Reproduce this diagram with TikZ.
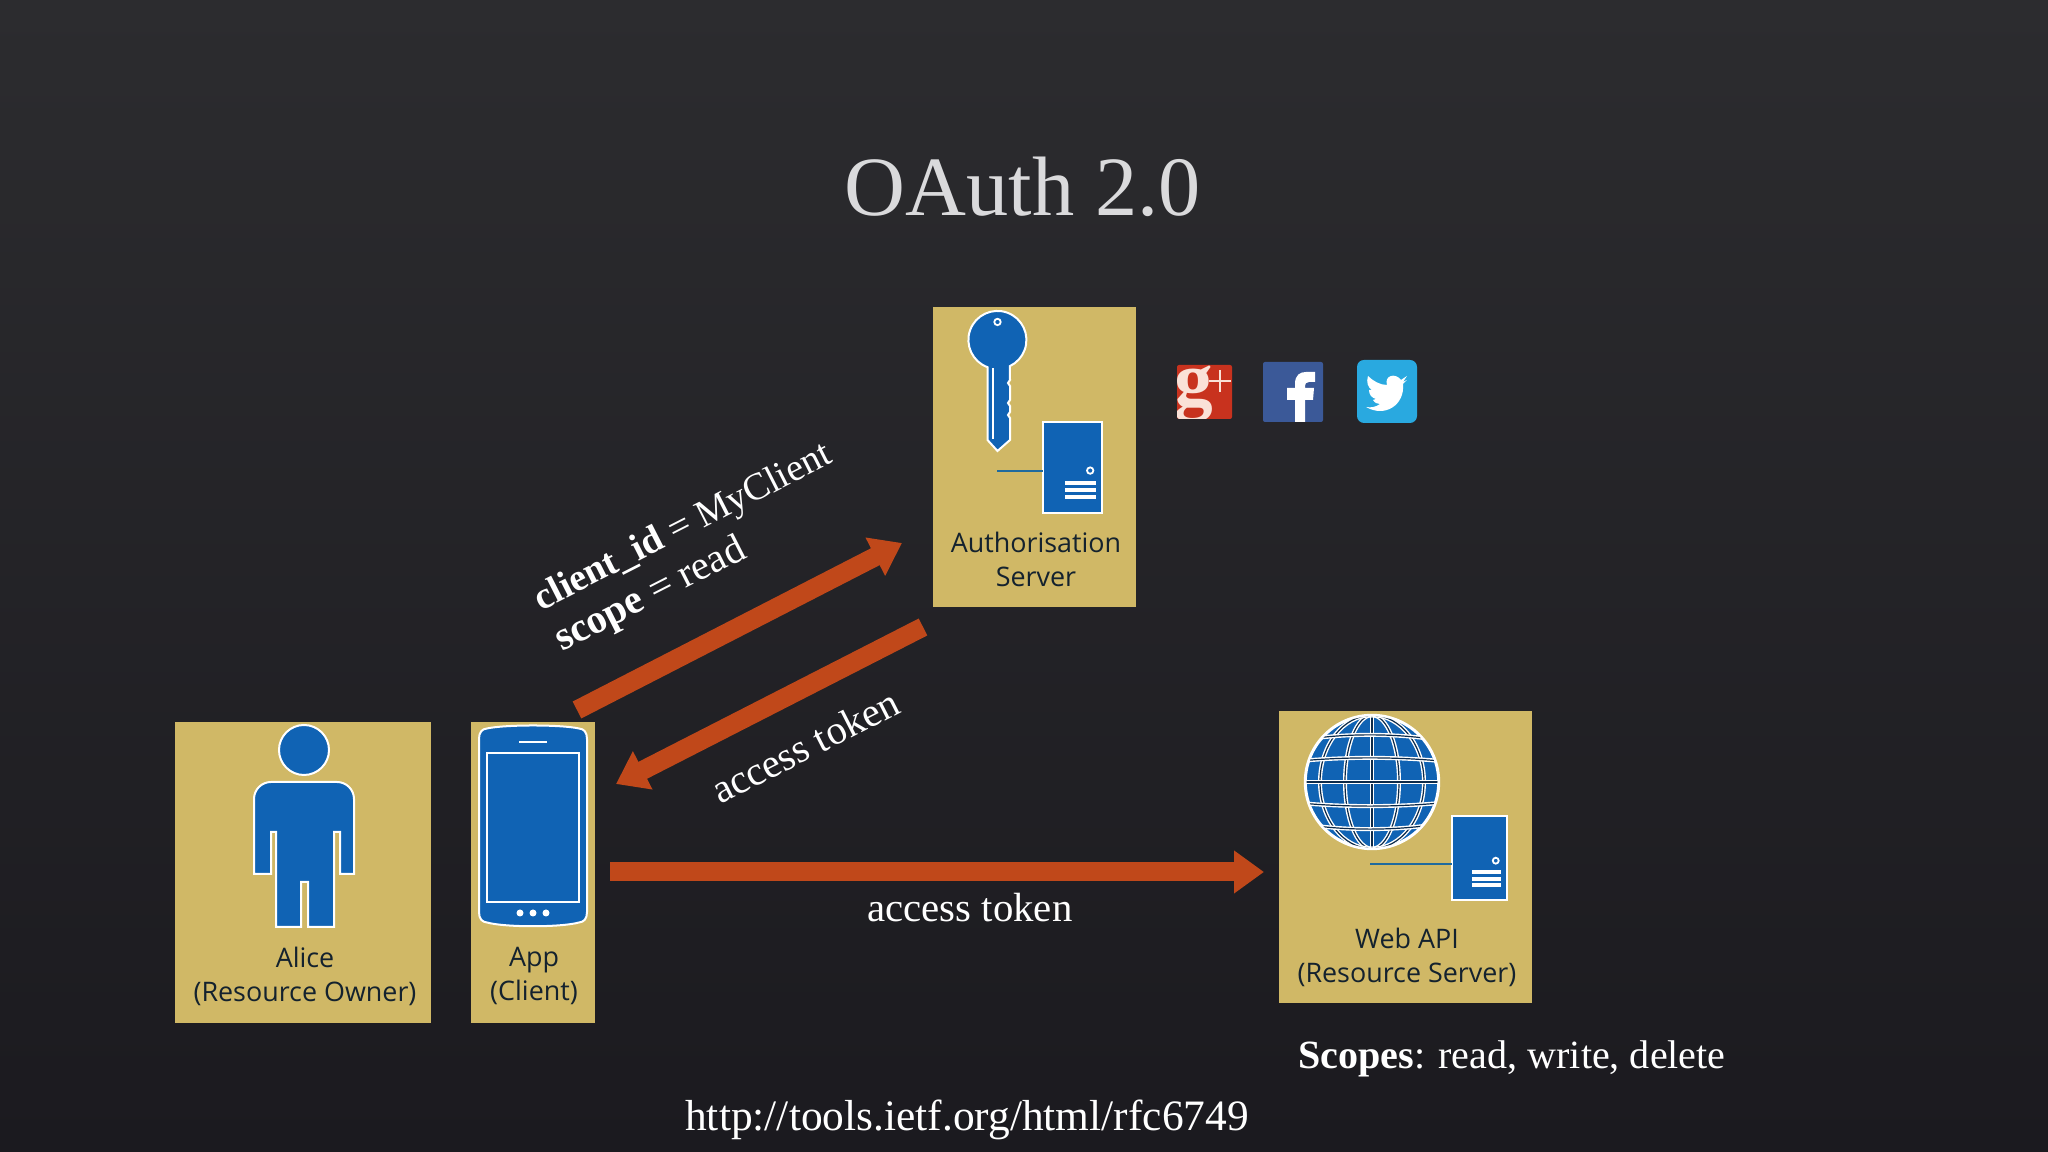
\documentclass[tikz,border=0pt]{standalone}
\usepackage{fontspec}
\setmainfont{Liberation Serif}
\newfontfamily\boxfont{Open Sans}
\usetikzlibrary{arrows.meta}
\definecolor{boxgold}{HTML}{D0B866}
\definecolor{iconblue}{HTML}{1063B4}
\definecolor{wireblue}{HTML}{1F6A9E}
\definecolor{arrowred}{HTML}{C0481A}
\definecolor{gridnavy}{HTML}{0C2A4A}
\definecolor{boxink}{HTML}{14222E}
\definecolor{bgtop}{HTML}{2C2C2F}
\definecolor{bgbottom}{HTML}{1B1A1F}
\definecolor{titlegrey}{HTML}{DADADC}
\definecolor{gplusred}{HTML}{C8321E}
\definecolor{gpluspale}{HTML}{FAE1D7}
\definecolor{fbblue}{HTML}{3B5998}
\definecolor{twblue}{HTML}{29A9E0}
\tikzset{
	box/.style={fill=boxgold, inner sep=0pt},
	boxlabel/.style={font=\boxfont\fontsize{7.65}{9.7}\selectfont, text=boxink, align=center},
	icon/.style={fill=iconblue, draw=white, line width=.02cm},
	iconline/.style={draw=white, line width=.018cm},
	gridline/.style={draw=white, line width=.014cm, double=gridnavy, double distance=.012cm},
	wire/.style={draw=wireblue, line width=.02cm},
	bigarrow/.style={draw=arrowred, line width=.19cm, -{Triangle[width=.41cm,length=.3cm]}},
	note/.style={text=white, font=\fontsize{11.6}{13}\selectfont},
	serverpic/.pic={
		\draw[icon] (0,0) rectangle (.59,.91);
		\draw[iconline] (.472,.424) circle [radius=.032];
		\fill[white] (.218,.28) rectangle (.525,.32);
		\fill[white] (.218,.21) rectangle (.525,.25);
		\fill[white] (.218,.14) rectangle (.525,.18);
		\coordinate (-port) at (0,.424);
	}
}

\begin{document}
\begin{tikzpicture}
	% background
	\shade[top color=bgtop, bottom color=bgbottom] (0,0) rectangle (20.48,11.52);
	\useasboundingbox (0,0) rectangle (20.48,11.52);
	\node[text=titlegrey, font=\fontsize{24}{28}\selectfont] (title) at (10.23,9.65) {OAuth 2.0};
	% boxes
	\node[box, minimum width=2.56cm, minimum height=3.01cm] (alice) at (3.03,2.795) {};
	\node[box, minimum width=1.24cm, minimum height=3.01cm] (app) at (5.33,2.795) {};
	\node[box, minimum width=2.03cm, minimum height=3.00cm] (auth) at (10.34,6.95) {};
	\node[box, minimum width=2.53cm, minimum height=2.92cm] (web) at (14.055,2.95) {};
	\node[boxlabel] (alicelabel) at (3.05,1.76) {Alice\\(Resource Owner)};
	\node[boxlabel] (applabel) at (5.34,1.76) {App\\(Client)};
	\node[boxlabel] (authlabel) at (10.36,5.93) {Authorisation\\Server};
	\node[boxlabel] (weblabel) at (14.07,1.95) {Web API\\(Resource Server)};
	% person
	\draw[icon] (3.04,4.02) circle [radius=.25];
	\draw[icon, rounded corners=.17cm] (2.54,2.78)[sharp corners]--(2.54,3.0)[rounded corners=.17cm]--(2.54,3.70)--(3.54,3.70)[sharp corners]--(3.54,2.78)--(3.40,2.78)--(3.40,3.20)--(3.34,3.20)--(3.34,2.25)--(3.08,2.25)--(3.08,2.70)--(3.01,2.70)--(3.01,2.25)--(2.76,2.25)--(2.76,3.20)--(2.71,3.20)--(2.71,2.78)--cycle;
	% phone
	\draw[icon] (4.79,2.40)--(4.79,4.13) .. controls (4.79,4.20) and (4.82,4.23) .. (4.87,4.235) .. controls (5.05,4.275) and (5.61,4.275) .. (5.79,4.235) .. controls (5.84,4.23) and (5.87,4.20) .. (5.87,4.13)--(5.87,2.40) .. controls (5.87,2.33) and (5.84,2.30) .. (5.79,2.295) .. controls (5.61,2.245) and (5.05,2.245) .. (4.87,2.295) .. controls (4.82,2.30) and (4.79,2.33) .. (4.79,2.40)--cycle;
	\draw[iconline] (4.87,2.50) rectangle (5.79,3.99);
	\draw[iconline] (5.19,4.10)--(5.47,4.10);
	\fill[white] (5.20,2.39) circle [radius=.035];
	\fill[white] (5.33,2.39) circle [radius=.035];
	\fill[white] (5.46,2.39) circle [radius=.035];
	% key
	\draw[icon] (9.875,7.12)--(9.875,7.848) arc [start angle=250, end angle=-64.5, radius=.29]--(10.10,7.72)--(10.08,7.69)--(10.10,7.66)--(10.10,7.52)--(10.08,7.49)--(10.10,7.46)--(10.10,7.40)--(10.08,7.37)--(10.10,7.34)--(10.10,7.12)--(9.975,7.01)--cycle;
	\draw[iconline] (9.975,8.30) circle [radius=.032];
	\draw[iconline] (9.93,7.84)--(9.93,7.13);
	% servers
	\pic (authsrv) at (10.43,6.39) {serverpic};
	\pic[scale=.927] (websrv) at (14.52,2.52) {serverpic};
	\coordinate (keyfoot) at (9.97,6.814);
	\coordinate (globefoot) at (13.70,2.877);
	\draw[wire] (keyfoot)--(keyfoot -| authsrv-port);
	\draw[wire] (globefoot)--(globefoot -| websrv-port);
	% globe
	\draw[fill=iconblue, draw=white, line width=.03cm] (13.72,3.70) circle [radius=.667];
	\begin{scope}
		\clip (13.72,3.70) circle [radius=.655];
		\draw[gridline] (13.72,3.0)--(13.72,4.4);
		\draw[gridline] (13.72,3.70) circle [x radius=.27, y radius=.667];
		\draw[gridline] (13.72,3.70) circle [x radius=.52, y radius=.667];
		\draw[gridline] (12.9,3.70)--(14.5,3.70);
		\draw[gridline] (12.9,3.90) .. controls (13.4,3.955) and (14.0,3.955) .. (14.5,3.90);
		\draw[gridline] (12.9,3.50) .. controls (13.4,3.445) and (14.0,3.445) .. (14.5,3.50);
		\draw[gridline] (12.9,4.10) .. controls (13.4,4.195) and (14.0,4.195) .. (14.5,4.10);
		\draw[gridline] (12.9,3.30) .. controls (13.4,3.205) and (14.0,3.205) .. (14.5,3.30);
	\end{scope}
	% logos
	\fill[rounded corners=.02cm, fill=gplusred] (11.77,7.33) rectangle (12.32,7.87);
	\begin{scope}
		\clip (11.77,7.33) rectangle (12.32,7.87);
		\node[text=gpluspale, font=\bfseries\fontsize{22}{22}\selectfont, inner sep=0pt] (gletter) at (11.94,7.58) {g};
	\end{scope}
	\draw[gpluspale, line width=.025cm] (12.09,7.71)--(12.31,7.71);
	\draw[gpluspale, line width=.025cm] (12.20,7.60)--(12.20,7.82);
	\fill[rounded corners=.02cm, fill=fbblue] (12.63,7.30) rectangle (13.23,7.90);
	\fill[white] (12.95,7.30)--(12.95,7.52)--(12.87,7.52)--(12.87,7.64)--(12.95,7.64)--(12.95,7.68) .. controls (12.95,7.77) and (13.0,7.80) .. (13.06,7.80)--(13.15,7.80)--(13.15,7.70)--(13.09,7.70) .. controls (13.06,7.70) and (13.05,7.68) .. (13.05,7.66)--(13.05,7.64)--(13.14,7.64)--(13.13,7.52)--(13.05,7.52)--(13.05,7.30)--cycle;
	\fill[rounded corners=.07cm, fill=twblue] (13.57,7.29) rectangle (14.17,7.92);
	\fill[white] (14.07,7.76)--(14.01,7.72) .. controls (13.95,7.80) and (13.84,7.76) .. (13.87,7.67) .. controls (13.80,7.67) and (13.73,7.71) .. (13.68,7.76) .. controls (13.66,7.70) and (13.68,7.64) .. (13.72,7.62)--(13.69,7.62) .. controls (13.69,7.57) and (13.72,7.54) .. (13.76,7.53)--(13.73,7.52) .. controls (13.75,7.49) and (13.77,7.48) .. (13.80,7.48) .. controls (13.76,7.45) and (13.71,7.44) .. (13.66,7.45) .. controls (13.85,7.34) and (14.05,7.47) .. (14.03,7.68)--(14.07,7.72)--(14.03,7.70)--cycle;
	% arrows
	\coordinate (reqstart) at (5.77,4.42);
	\coordinate (reqend) at (9.02,6.09);
	\coordinate (tokstart) at (9.23,5.25);
	\coordinate (tokend) at (6.16,3.68);
	\coordinate (callstart) at (6.10,2.80);
	\coordinate (callend) at (12.64,2.80);
	\draw[bigarrow] (reqstart)--(reqend);
	\draw[bigarrow] (tokstart)--(tokend);
	\draw[bigarrow] (callstart)--(callend);
	% labels
	\node[note, rotate=27, align=left] (reqlabel) at (6.94,6.03) {{\fontsize{10.9}{13}\selectfont\textbf{client\_id} = MyClient}\\\textbf{scope} = read};
	\node[note, rotate=27] (toklabel) at (8.05,4.06) {access token};
	\node[note] (calllabel) at (9.70,2.44) {access token};
	\node[note, font=\fontsize{11.4}{13}\selectfont] (scopes) at (15.12,0.93) {\textbf{Scopes}: read, write, delete};
	\node[note, font=\fontsize{12.35}{14}\selectfont] (rfc) at (9.67,0.32) {http://tools.ietf.org/html/rfc6749};
\end{tikzpicture}
\end{document}
